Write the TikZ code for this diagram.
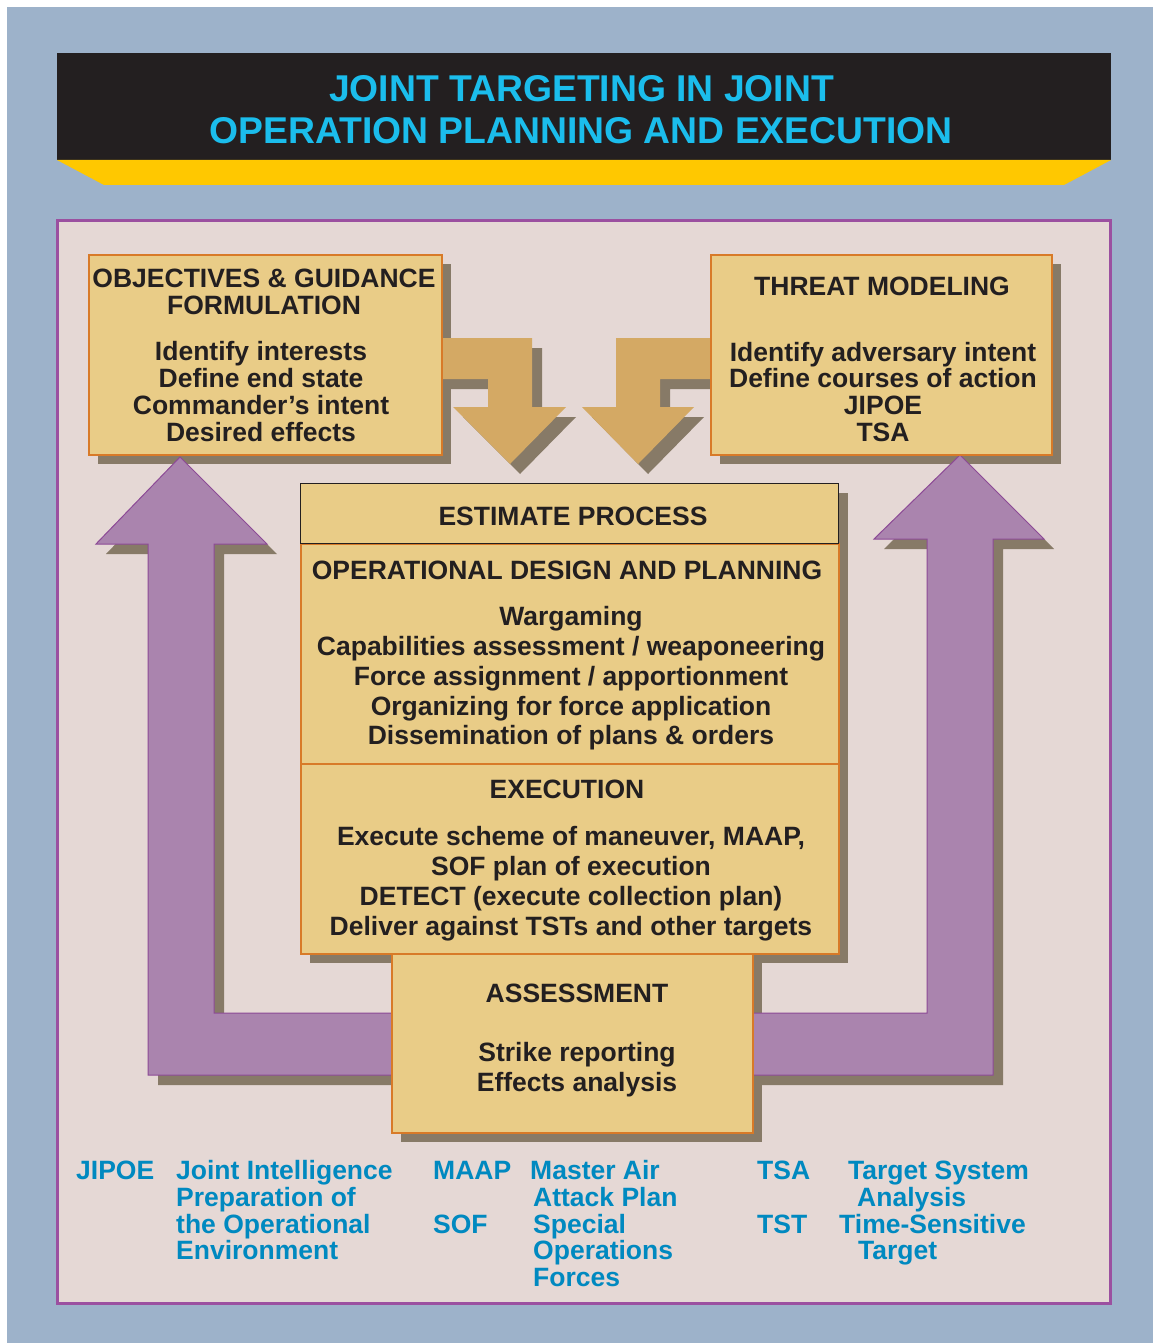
\documentclass[tikz,border=0pt]{standalone}
\usepackage{fontspec}
\setmainfont{Liberation Sans}
\definecolor{bgblue}{RGB}{157,178,202}
\definecolor{barblack}{RGB}{35,31,32}
\definecolor{bandyellow}{RGB}{255,200,0}
\definecolor{titlecyan}{RGB}{27,189,236}
\definecolor{panelfill}{RGB}{229,216,213}
\definecolor{panelborder}{RGB}{155,80,160}
\definecolor{boxfill}{RGB}{233,204,135}
\definecolor{boxborder}{RGB}{216,122,40}
\definecolor{shadowc}{RGB}{135,122,103}
\definecolor{tanarrow}{RGB}{212,169,100}
\definecolor{purplefill}{RGB}{170,132,174}
\definecolor{purpleborder}{RGB}{140,74,150}
\definecolor{ink}{RGB}{35,31,32}
\definecolor{footc}{RGB}{0,137,192}
\begin{document}
\begin{tikzpicture}[x=1pt,y=-1pt,
  box/.style={draw=boxborder, line width=1.5pt, fill=boxfill, inner sep=0pt, anchor=north west},
  blackbox/.style={draw=ink, line width=1.3pt, fill=boxfill, inner sep=0pt, anchor=north west},
  tanshape/.style={fill=tanarrow, draw=none},
  purpleline/.style={draw=purpleborder, line width=1pt, line join=miter},
  titletxt/.style={font=\fontsize{37.3}{42}\selectfont\bfseries, text=titlecyan, inner sep=0pt, anchor=base},
  txt/.style={font=\fontsize{26.5}{27}\selectfont\bfseries, text=ink, inner sep=0pt, anchor=base},
  foot/.style={font=\fontsize{26.5}{27}\selectfont\bfseries, text=footc, inner sep=0pt, anchor=base west}]
\useasboundingbox (0,0) rectangle (1153,1343);
% background
\fill[white] (0,0) rectangle (1153,1343);
\fill[bgblue] (7,7) rectangle (1153,1343);
% title bar
\fill[barblack] (57,53) rectangle (1111,160);
\fill[bandyellow] (57,160) -- (1111,160) -- (1064,185) -- (104,185) -- cycle;
\node[titletxt] (title1) at (581.5,102) {JOINT TARGETING IN JOINT};
\node[titletxt] (title2) at (581,144) {OPERATION PLANNING AND EXECUTION};
% panel
\draw[fill=panelfill, draw=panelborder, line width=3pt] (57.5,220.5) rectangle (1110.3,1303);
% ---- shadows
\fill[shadowc] (98,264) rectangle (451,464);
\fill[shadowc] (720,264) rectangle (1061,464);
\fill[shadowc] (310,493) rectangle (848,963);
\fill[shadowc] (401,963) rectangle (762,1142);
\begin{scope}[shift={(10,10)}]
  \fill[shadowc] (435,338) -- (532,338) -- (532,407) -- (566,407) -- (510,464) -- (453,407) -- (488,407) -- (488,379) -- (435,379) -- cycle;
  \fill[shadowc] (716,338) -- (616,338) -- (616,407) -- (582,407) -- (638,464) -- (694,407) -- (660,407) -- (660,379) -- (716,379) -- cycle;
  \fill[shadowc] (148,1075) -- (148,544) -- (96,544) -- (180,457) -- (267,544) -- (214,544) -- (214,1013) -- (395,1013) -- (395,1075) -- cycle;
  \fill[shadowc] (747,1013) -- (927,1013) -- (927,539) -- (874,539) -- (960,455) -- (1044,539) -- (993,539) -- (993,1075) -- (747,1075) -- cycle;
\end{scope}
% ---- tan arrows
\fill[tanshape] (435,338) -- (532,338) -- (532,407) -- (566,407) -- (510,464) -- (453,407) -- (488,407) -- (488,379) -- (435,379) -- cycle;
\fill[tanshape] (716,338) -- (616,338) -- (616,407) -- (582,407) -- (638,464) -- (694,407) -- (660,407) -- (660,379) -- (716,379) -- cycle;
% ---- purple arrows
\fill[purplefill] (148,1075) -- (148,544) -- (96,544) -- (180,457) -- (267,544) -- (214,544) -- (214,1013) -- (395,1013) -- (395,1075) -- cycle;
\draw[purpleline] (395,1075) -- (148,1075) -- (148,544) -- (96,544) -- (180,457) -- (267,544) -- (214,544) -- (214,1013) -- (395,1013);
\fill[purplefill] (747,1013) -- (927,1013) -- (927,539) -- (874,539) -- (960,455) -- (1044,539) -- (993,539) -- (993,1075) -- (747,1075) -- cycle;
\draw[purpleline] (747,1013) -- (927,1013) -- (927,539) -- (874,539) -- (960,455) -- (1044,539) -- (993,539) -- (993,1075) -- (747,1075);
% ---- boxes
\node[box, minimum width=353pt, minimum height=200pt] (obj) at (88,254) {};
\node[box, minimum width=341pt, minimum height=200pt] (threat) at (710,254) {};
\node[box, minimum width=538pt, minimum height=220pt] (odp) at (300,543) {};
\node[box, minimum width=538pt, minimum height=190pt] (exec) at (300,763) {};
\node[blackbox, minimum width=538pt, minimum height=60pt] (est) at (300,483) {};
\node[box, minimum width=361pt, minimum height=179pt] (assess) at (391,953) {};
% ---- texts: objectives
\node[txt] (o1) at (264,287) {OBJECTIVES \& GUIDANCE};
\node[txt] (o2) at (264,314) {FORMULATION};
\node[txt] (o3) at (261,360) {Identify interests};
\node[txt] (o4) at (261,387) {Define end state};
\node[txt] (o5) at (261,414) {Commander’s intent};
\node[txt] (o6) at (261,441) {Desired effects};
% threat
\node[txt] (t1) at (882,295) {THREAT MODELING};
\node[txt] (t2) at (883,361) {Identify adversary intent};
\node[txt] (t3) at (883,387) {Define courses of action};
\node[txt] (t4) at (883,414) {JIPOE};
\node[txt] (t5) at (883,441) {TSA};
% estimate
\node[txt] (e1) at (573,525) {ESTIMATE PROCESS};
\node[txt] (p1) at (567,579) {OPERATIONAL DESIGN AND PLANNING};
\node[txt] (p2) at (571,625) {Wargaming};
\node[txt] (p3) at (571,655) {Capabilities assessment / weaponeering};
\node[txt] (p4) at (571,685) {Force assignment / apportionment};
\node[txt] (p5) at (571,715) {Organizing for force application};
\node[txt] (p6) at (571,744) {Dissemination of plans \& orders};
\node[txt] (x1) at (567,798) {EXECUTION};
\node[txt] (x2) at (571,845) {Execute scheme of maneuver, MAAP,};
\node[txt] (x3) at (571,875) {SOF plan of execution};
\node[txt] (x4) at (571,905) {DETECT (execute collection plan)};
\node[txt] (x5) at (571,935) {Deliver against TSTs and other targets};
\node[txt] (a1) at (577,1002) {ASSESSMENT};
\node[txt] (a2) at (577,1061) {Strike reporting};
\node[txt] (a3) at (577,1091) {Effects analysis};
% ---- footnotes
\node[foot] (f1) at (76,1179) {JIPOE};
\node[foot] (f2) at (176,1179) {Joint Intelligence};
\node[foot] (f3) at (176,1206) {Preparation of};
\node[foot] (f4) at (176,1233) {the Operational};
\node[foot] (f5) at (176,1259) {Environment};
\node[foot] (f6) at (433,1179) {MAAP};
\node[foot] (f7) at (530,1179) {Master Air};
\node[foot] (f8) at (533,1206) {Attack Plan};
\node[foot] (f9) at (433,1233) {SOF};
\node[foot] (f10) at (533,1233) {Special};
\node[foot] (f11) at (533,1259) {Operations};
\node[foot] (f12) at (533,1286) {Forces};
\node[foot] (f13) at (757,1179) {TSA};
\node[foot] (f14) at (848,1179) {Target System};
\node[foot] (f15) at (857,1206) {Analysis};
\node[foot] (f16) at (757,1233) {TST};
\node[foot] (f17) at (839,1233) {Time-Sensitive};
\node[foot] (f18) at (858,1259) {Target};
\end{tikzpicture}
\end{document}
